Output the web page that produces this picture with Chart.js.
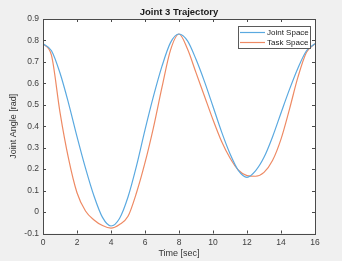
<!DOCTYPE html>
<html>
<head>
<meta charset="utf-8">
<script src="https://cdn.jsdelivr.net/npm/chart.js@4"></script>
<style>
  html, body { margin: 0; padding: 0; background: #f0f0f0; }
  #wrap { width: 342px; height: 261px; }
</style>
</head>
<body>
<div id="wrap"><canvas id="chart" width="342" height="261"></canvas></div>
<script>
// Data
const titleText = 'Joint 3 Trajectory';
const seriesNames = ['Joint Space', 'Task Space'];
const times = [0, 0.5, 1, 1.5, 2, 2.5, 3, 3.5, 4, 4.5, 5, 5.5, 6, 6.5, 7, 7.5, 8,
               8.5, 9, 9.5, 10, 10.5, 11, 11.5, 12, 12.5, 13, 13.5, 14, 14.5, 15, 15.5, 16];
const jointSpace = [0.785, 0.752, 0.648, 0.508, 0.352, 0.205, 0.075, -0.025, -0.065,
                    -0.030, 0.070, 0.215, 0.383, 0.540, 0.680, 0.790, 0.830,
                    0.798, 0.712, 0.608, 0.492, 0.375, 0.272, 0.193, 0.162,
                    0.192, 0.255, 0.350, 0.462, 0.572, 0.672, 0.752, 0.785];
const taskSpace = [0.785, 0.730, 0.465, 0.250, 0.090, 0.005, -0.037, -0.063, -0.075,
                   -0.058, -0.020, 0.090, 0.230, 0.395, 0.582, 0.755, 0.830,
                   0.760, 0.650, 0.540, 0.430, 0.330, 0.252, 0.195, 0.170,
                   0.167, 0.185, 0.240, 0.340, 0.480, 0.630, 0.745, 0.785];
const xTicks = [0, 2, 4, 6, 8, 10, 12, 14, 16];
const yTicks = [-0.1, 0, 0.1, 0.2, 0.3, 0.4, 0.5, 0.6, 0.7, 0.8, 0.9];

const colors = ['#5aa9e0', '#ee8a64'];
const axisColor = '#4a4a4a';
const fontFamily = '"Liberation Sans", Arial, sans-serif';

function points(ys) {
    return times.map((t, i) => ({ x: t, y: ys[i] }));
}

// MATLAB-like axes: white plot box, inward ticks, title, legend inside
const matlabAxes = {
    id: 'matlabAxes',
    beforeDraw(chart) {
        const { ctx, chartArea: a } = chart;
        ctx.save();
        ctx.fillStyle = '#ffffff';
        ctx.fillRect(a.left, a.top, a.right - a.left, a.bottom - a.top);
        ctx.restore();
    },
    afterDraw(chart) {
        const { ctx, chartArea: a, scales } = chart;
        ctx.save();
        ctx.strokeStyle = axisColor;
        ctx.lineWidth = 1;
        ctx.beginPath();
        xTicks.forEach(v => {
            const px = Math.round(scales.x.getPixelForValue(v)) + 0.5;
            ctx.moveTo(px, a.bottom); ctx.lineTo(px, a.bottom - 3);
            ctx.moveTo(px, a.top); ctx.lineTo(px, a.top + 3);
        });
        yTicks.forEach(v => {
            const py = Math.round(scales.y.getPixelForValue(v)) + 0.5;
            ctx.moveTo(a.left, py); ctx.lineTo(a.left + 3, py);
            ctx.moveTo(a.right, py); ctx.lineTo(a.right - 3, py);
        });
        ctx.stroke();
        ctx.strokeRect(Math.round(a.left) + 0.5, Math.round(a.top) + 0.5,
                       Math.round(a.right - a.left), Math.round(a.bottom - a.top));

        // title
        ctx.fillStyle = '#1a1a1a';
        ctx.font = 'bold 9.5px ' + fontFamily;
        ctx.textAlign = 'center';
        ctx.textBaseline = 'middle';
        ctx.fillText(titleText, (a.left + a.right) / 2, 12);

        // legend
        const lx = 238, ly = 26, lw = 72, lh = 22;
        ctx.fillStyle = '#ffffff';
        ctx.fillRect(lx, ly, lw, lh);
        ctx.strokeStyle = '#5a5a5a';
        ctx.strokeRect(lx + 0.5, ly + 0.5, lw, lh);
        ctx.font = '8px ' + fontFamily;
        ctx.textAlign = 'left';
        chart.data.datasets.forEach((ds, i) => {
            const yy = ly + 6.5 + i * 10;
            ctx.strokeStyle = ds.borderColor;
            ctx.lineWidth = 1.2;
            ctx.beginPath();
            ctx.moveTo(lx + 2, yy); ctx.lineTo(lx + 27, yy);
            ctx.stroke();
            ctx.fillStyle = '#1a1a1a';
            ctx.fillText(ds.label, lx + 29, yy);
        });
        ctx.restore();
    }
};

new Chart(document.getElementById('chart'), {
    type: 'line',
    data: {
        datasets: [
            { label: seriesNames[0], data: points(jointSpace), borderColor: colors[0] },
            { label: seriesNames[1], data: points(taskSpace), borderColor: colors[1] }
        ]
    },
    options: {
        responsive: false,
        animation: false,
        layout: { padding: { top: 19, right: 27, left: 0, bottom: 0 } },
        elements: {
            point: { radius: 0 },
            line: { borderWidth: 1.2, cubicInterpolationMode: 'monotone', fill: false }
        },
        plugins: {
            legend: { display: false },
            tooltip: { enabled: false },
            title: { display: false }
        },
        scales: {
            x: {
                type: 'linear',
                min: 0, max: 16,
                afterFit: s => { s.height = 27.5; },
                afterBuildTicks: s => { s.ticks = xTicks.map(v => ({ value: v })); },
                grid: { display: false, drawTicks: false },
                border: { display: false },
                ticks: { padding: 4, color: '#404040', font: { size: 8.5, family: fontFamily }, maxRotation: 0 },
                title: { display: true, text: 'Time [sec]', color: '#333333',
                         font: { size: 9, family: fontFamily }, padding: { top: 0, bottom: 2 } }
            },
            y: {
                min: -0.1, max: 0.9,
                afterFit: s => { s.width = 43; },
                afterBuildTicks: s => { s.ticks = yTicks.map(v => ({ value: v })); },
                grid: { display: false, drawTicks: false },
                border: { display: false },
                ticks: { padding: 4, color: '#404040', font: { size: 8.5, family: fontFamily },
                         callback: v => String(Math.round(v * 10) / 10) },
                title: { display: true, text: 'Joint Angle [rad]', color: '#333333',
                         font: { size: 9, family: fontFamily }, padding: { top: 8, bottom: 0 } }
            }
        }
    },
    plugins: [matlabAxes]
});
</script>
</body>
</html>
